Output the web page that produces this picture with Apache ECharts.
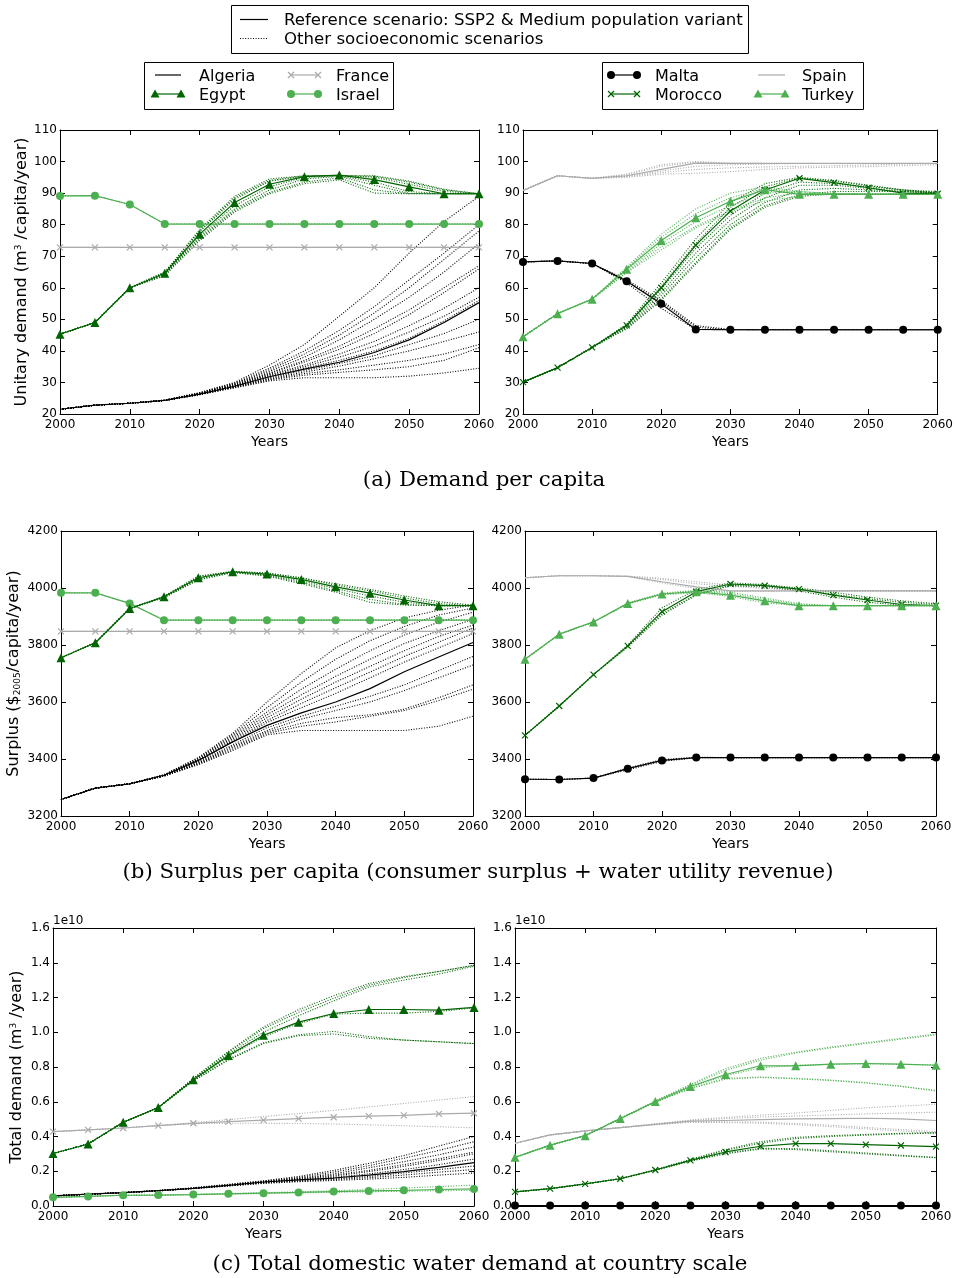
<!DOCTYPE html>
<html><head><meta charset="utf-8">
<script src="https://cdn.jsdelivr.net/npm/echarts@6/dist/echarts.min.js"></script>
<style>html,body{margin:0;padding:0;background:#fff}#chart{width:956px;height:1278px}</style>
</head><body><div id="chart"></div>
<script>
// ---------- DATA ----------
const years = [2000, 2005, 2010, 2015, 2020, 2025, 2030, 2035, 2040, 2045, 2050, 2055, 2060];

// (a) Demand per capita (m3/capita/year)
const demAlgeriaRef = [21.5, 22.8, 23.4, 24.3, 26.3, 28.8, 31.8, 34.2, 36.4, 39.5, 43.5, 49.0, 55.3];
const demAlgeriaAlt = [
  [21.5, 22.8, 23.4, 24.4, 26.8, 30.0, 35.5, 42.0, 51.0, 60.0, 71.0, 81.0, 89.0],
  [21.5, 22.8, 23.4, 24.4, 26.7, 29.8, 34.5, 40.0, 46.5, 54.0, 62.5, 71.0, 80.0],
  [21.5, 22.8, 23.4, 24.4, 26.6, 29.6, 34.0, 39.0, 45.0, 52.0, 60.0, 69.0, 78.0],
  [21.5, 22.8, 23.4, 24.4, 26.6, 29.5, 33.5, 38.0, 43.5, 50.0, 57.0, 65.0, 74.0],
  [21.5, 22.8, 23.4, 24.3, 26.5, 29.3, 33.0, 37.0, 41.5, 47.0, 53.0, 60.0, 67.0],
  [21.5, 22.8, 23.4, 24.3, 26.5, 29.2, 32.8, 36.5, 40.5, 45.5, 51.5, 58.5, 66.0],
  [21.5, 22.8, 23.4, 24.3, 26.4, 29.0, 32.5, 35.5, 39.0, 43.0, 48.0, 53.5, 60.0],
  [21.5, 22.8, 23.4, 24.3, 26.4, 29.0, 32.3, 35.0, 38.0, 41.5, 46.0, 51.0, 57.0],
  [21.5, 22.8, 23.4, 24.3, 26.3, 28.8, 32.0, 34.5, 37.0, 40.0, 44.0, 49.5, 56.0],
  [21.5, 22.8, 23.4, 24.3, 26.3, 28.7, 31.5, 33.8, 36.0, 38.5, 42.0, 45.5, 50.0],
  [21.5, 22.8, 23.4, 24.3, 26.2, 28.6, 31.2, 33.3, 35.2, 37.5, 40.0, 43.0, 46.0],
  [21.5, 22.8, 23.4, 24.3, 26.2, 28.5, 31.0, 32.8, 34.0, 35.5, 37.0, 39.0, 42.0],
  [21.5, 22.8, 23.4, 24.3, 26.1, 28.4, 30.8, 32.3, 33.2, 34.0, 35.0, 37.0, 41.0],
  [21.5, 22.8, 23.4, 24.3, 26.1, 28.3, 30.5, 31.5, 31.5, 31.5, 32.0, 33.0, 34.5]
];
const demEgyptRef = [45.3, 49.0, 60.0, 64.6, 77.0, 87.0, 92.8, 95.2, 95.7, 94.3, 92.0, 89.8, 89.8];
const demEgyptAlt = [
  [45.3, 49.0, 60.0, 64.9, 78.5, 89.0, 94.5, 95.5, 95.5, 95.5, 93.8, 91.2, 89.8],
  [45.3, 49.0, 60.0, 64.8, 77.8, 88.0, 93.8, 95.3, 95.6, 95.0, 92.8, 90.5, 89.8],
  [45.3, 49.0, 60.0, 64.4, 76.5, 86.0, 92.0, 95.0, 95.5, 93.5, 90.5, 89.8, 89.8],
  [45.3, 49.0, 60.0, 64.2, 76.0, 85.0, 91.0, 94.5, 95.3, 92.5, 89.9, 89.8, 89.8],
  [45.3, 49.0, 60.0, 64.0, 75.5, 84.5, 90.2, 93.5, 94.8, 91.0, 89.8, 89.8, 89.8],
  [45.3, 49.0, 60.0, 63.8, 75.0, 84.0, 89.8, 93.0, 94.2, 90.0, 89.8, 89.8, 89.8],
  [45.3, 49.0, 60.0, 65.0, 78.0, 88.5, 94.0, 95.5, 95.6, 95.3, 93.5, 91.0, 89.8]
];
const demFranceRef = [72.8, 72.8, 72.8, 72.8, 72.8, 72.8, 72.8, 72.8, 72.8, 72.8, 72.8, 72.8, 72.8];
const demFranceAlt = [
  [72.8, 72.8, 72.8, 72.8, 72.8, 72.8, 72.8, 72.8, 72.8, 72.8, 72.8, 72.8, 72.8]
];
const demIsraelRef = [89.1, 89.2, 86.4, 80.2, 80.2, 80.2, 80.2, 80.2, 80.2, 80.2, 80.2, 80.2, 80.2];
const demIsraelAlt = [
  [89.1, 89.2, 86.4, 80.3, 80.3, 80.3, 80.3, 80.3, 80.3, 80.3, 80.3, 80.3, 80.3]
];
const demSpainRef = [90.8, 95.5, 94.7, 95.5, 97.5, 99.5, 99.4, 99.4, 99.4, 99.4, 99.4, 99.4, 99.4];
const demSpainAlt = [
  [90.8, 95.5, 94.7, 96.0, 99.0, 100.0, 99.5, 99.4, 99.4, 99.4, 99.4, 99.4, 99.4],
  [90.8, 95.5, 94.7, 95.8, 98.5, 99.8, 99.4, 99.4, 99.4, 99.4, 99.4, 99.4, 99.4],
  [90.8, 95.5, 94.7, 95.3, 97.0, 98.5, 99.0, 99.2, 99.4, 99.4, 99.4, 99.4, 99.4],
  [90.8, 95.5, 94.7, 95.2, 96.5, 97.5, 98.0, 98.3, 98.5, 98.7, 98.9, 99.2, 99.4],
  [90.8, 95.5, 94.7, 95.0, 96.0, 96.3, 96.8, 97.5, 98.0, 98.2, 98.4, 98.7, 99.0]
];
const demMaltaRef = [68.2, 68.5, 67.7, 62.1, 54.9, 46.8, 46.7, 46.7, 46.7, 46.7, 46.7, 46.7, 46.7];
const demMaltaAlt = [
  [68.2, 68.5, 67.7, 62.5, 56.0, 48.0, 46.8, 46.7, 46.7, 46.7, 46.7, 46.7, 46.7],
  [68.2, 68.5, 67.7, 61.5, 53.5, 46.8, 46.7, 46.7, 46.7, 46.7, 46.7, 46.7, 46.7],
  [68.2, 68.5, 67.7, 62.0, 55.5, 47.5, 46.7, 46.7, 46.7, 46.7, 46.7, 46.7, 46.7]
];
const demMoroccoRef = [30.1, 34.7, 41.1, 48.1, 60.0, 73.5, 84.3, 91.0, 94.7, 93.3, 91.7, 90.0, 89.8];
const demMoroccoAlt = [
  [30.1, 34.7, 41.1, 48.5, 61.5, 75.5, 87.0, 93.0, 95.0, 94.0, 92.5, 91.0, 90.2],
  [30.1, 34.7, 41.1, 48.3, 60.5, 74.0, 85.5, 92.0, 94.8, 93.8, 92.3, 91.0, 90.5],
  [30.1, 34.7, 41.1, 48.0, 59.5, 72.5, 83.0, 90.0, 93.5, 93.0, 92.0, 91.0, 90.0],
  [30.1, 34.7, 41.1, 47.8, 58.5, 71.0, 81.5, 88.5, 92.5, 92.5, 91.5, 90.5, 90.0],
  [30.1, 34.7, 41.1, 47.5, 57.5, 69.5, 80.0, 87.0, 91.0, 91.5, 91.0, 90.5, 90.0],
  [30.1, 34.7, 41.1, 47.2, 56.5, 68.0, 79.0, 86.0, 89.5, 90.5, 90.5, 90.5, 90.2],
  [30.1, 34.7, 41.1, 47.0, 56.0, 67.5, 78.5, 85.5, 89.0, 89.8, 89.8, 89.8, 89.8]
];
const demTurkeyRef = [44.5, 51.8, 56.4, 65.9, 75.0, 82.2, 87.4, 91.1, 89.6, 89.6, 89.6, 89.6, 89.6];
const demTurkeyAlt = [
  [44.5, 51.8, 56.4, 66.5, 77.0, 85.0, 90.0, 92.0, 90.5, 89.8, 89.6, 89.6, 89.6],
  [44.5, 51.8, 56.4, 66.2, 76.0, 83.5, 88.5, 91.5, 90.0, 89.6, 89.6, 89.6, 89.6],
  [44.5, 51.8, 56.4, 65.5, 74.0, 81.0, 86.0, 90.0, 90.5, 89.8, 89.6, 89.6, 89.6],
  [44.5, 51.8, 56.4, 65.0, 73.0, 79.5, 84.5, 88.5, 90.0, 89.8, 89.6, 89.6, 89.6],
  [44.5, 51.8, 56.4, 64.8, 72.0, 79.0, 84.0, 87.5, 89.0, 89.6, 89.6, 89.6, 89.6]
];

// (b) Surplus per capita ($2005/capita/year)
const surAlgeriaRef = [3258, 3298, 3313, 3343, 3395, 3460, 3518, 3562, 3600, 3647, 3706, 3758, 3809];
const surAlgeriaAlt = [
  [3258, 3298, 3313, 3345, 3405, 3490, 3600, 3700, 3790, 3850, 3895, 3922, 3940],
  [3258, 3298, 3313, 3344, 3403, 3485, 3580, 3670, 3750, 3815, 3865, 3905, 3930],
  [3258, 3298, 3313, 3344, 3400, 3480, 3565, 3645, 3715, 3780, 3835, 3880, 3915],
  [3258, 3298, 3313, 3343, 3398, 3475, 3555, 3625, 3690, 3750, 3805, 3850, 3890],
  [3258, 3298, 3313, 3343, 3396, 3470, 3545, 3610, 3670, 3725, 3780, 3830, 3870],
  [3258, 3298, 3313, 3342, 3393, 3465, 3535, 3595, 3650, 3705, 3760, 3810, 3860],
  [3258, 3298, 3313, 3342, 3391, 3460, 3528, 3580, 3630, 3685, 3740, 3790, 3840],
  [3258, 3298, 3313, 3341, 3388, 3450, 3510, 3550, 3585, 3620, 3660, 3710, 3760],
  [3258, 3298, 3313, 3341, 3386, 3445, 3500, 3540, 3570, 3600, 3640, 3685, 3730],
  [3258, 3298, 3313, 3340, 3384, 3440, 3495, 3525, 3545, 3555, 3575, 3615, 3660],
  [3258, 3298, 3313, 3340, 3382, 3435, 3490, 3515, 3530, 3550, 3570, 3605, 3645],
  [3258, 3298, 3313, 3340, 3380, 3430, 3485, 3500, 3500, 3500, 3500, 3515, 3550]
];
const surEgyptRef = [3755, 3808, 3928, 3969, 4036, 4057, 4049, 4030, 4004, 3982, 3958, 3938, 3938];
const surEgyptAlt = [
  [3755, 3808, 3928, 3970, 4040, 4058, 4052, 4035, 4015, 3995, 3972, 3952, 3940],
  [3755, 3808, 3928, 3968, 4033, 4056, 4046, 4025, 3998, 3972, 3950, 3940, 3938],
  [3755, 3808, 3928, 3967, 4030, 4055, 4044, 4020, 3990, 3960, 3942, 3938, 3938],
  [3755, 3808, 3928, 3966, 4028, 4054, 4042, 4015, 3985, 3950, 3940, 3938, 3938],
  [3755, 3808, 3928, 3971, 4042, 4058, 4053, 4036, 4010, 3990, 3965, 3945, 3938]
];
const surFranceRef = [3848, 3848, 3848, 3848, 3848, 3848, 3848, 3848, 3848, 3848, 3848, 3848, 3848];
const surFranceAlt = [
  [3848, 3848, 3848, 3848, 3848, 3848, 3848, 3848, 3848, 3848, 3848, 3848, 3848]
];
const surIsraelRef = [3983, 3983, 3946, 3887, 3887, 3887, 3887, 3887, 3887, 3887, 3887, 3887, 3887];
const surIsraelAlt = [
  [3983, 3983, 3946, 3888, 3888, 3888, 3888, 3888, 3888, 3888, 3888, 3888, 3888]
];
const surSpainRef = [4036, 4043, 4043, 4041, 4022, 4004, 3990, 3990, 3990, 3990, 3990, 3990, 3990];
const surSpainAlt = [
  [4036, 4043, 4043, 4041, 4030, 4015, 4005, 4000, 3995, 3990, 3990, 3990, 3990],
  [4036, 4043, 4043, 4040, 4018, 3998, 3988, 3988, 3989, 3990, 3990, 3990, 3990],
  [4036, 4043, 4043, 4042, 4034, 4022, 4010, 3998, 3992, 3990, 3990, 3990, 3990]
];
const surMaltaRef = [3329, 3328, 3333, 3366, 3395, 3405, 3405, 3405, 3405, 3405, 3405, 3405, 3405];
const surMaltaAlt = [
  [3329, 3328, 3333, 3368, 3398, 3406, 3405, 3405, 3405, 3405, 3405, 3405, 3405],
  [3329, 3328, 3333, 3362, 3392, 3404, 3405, 3405, 3405, 3405, 3405, 3405, 3405]
];
const surMoroccoRef = [3483, 3586, 3696, 3797, 3917, 3987, 4014, 4008, 3996, 3975, 3958, 3942, 3938];
const surMoroccoAlt = [
  [3483, 3586, 3696, 3800, 3930, 3995, 4018, 4012, 4000, 3985, 3968, 3955, 3945],
  [3483, 3586, 3696, 3795, 3910, 3978, 4010, 4010, 3995, 3978, 3962, 3950, 3942],
  [3483, 3586, 3696, 3792, 3905, 3975, 4008, 4005, 3990, 3968, 3950, 3940, 3938]
];
const surTurkeyRef = [3750, 3838, 3881, 3946, 3979, 3987, 3975, 3955, 3938, 3938, 3938, 3938, 3938];
const surTurkeyAlt = [
  [3750, 3838, 3881, 3948, 3982, 3992, 3985, 3965, 3945, 3938, 3938, 3938, 3938],
  [3750, 3838, 3881, 3944, 3976, 3984, 3970, 3948, 3938, 3938, 3938, 3938, 3938],
  [3750, 3838, 3881, 3945, 3978, 3990, 3980, 3960, 3942, 3938, 3938, 3938, 3938]
];

// (c) Total demand (units of 1e10 m3/year)
const totAlgeriaRef = [0.058, 0.068, 0.077, 0.088, 0.102, 0.119, 0.138, 0.150, 0.161, 0.178, 0.198, 0.222, 0.250];
const totAlgeriaAlt = [
  [0.058, 0.068, 0.077, 0.089, 0.105, 0.125, 0.145, 0.170, 0.205, 0.245, 0.290, 0.345, 0.400],
  [0.058, 0.068, 0.077, 0.089, 0.104, 0.123, 0.143, 0.165, 0.195, 0.232, 0.275, 0.320, 0.370],
  [0.058, 0.068, 0.077, 0.088, 0.103, 0.121, 0.141, 0.160, 0.185, 0.220, 0.255, 0.295, 0.340],
  [0.058, 0.068, 0.077, 0.088, 0.103, 0.120, 0.140, 0.157, 0.178, 0.205, 0.238, 0.272, 0.310],
  [0.058, 0.068, 0.077, 0.088, 0.102, 0.119, 0.138, 0.155, 0.172, 0.198, 0.228, 0.262, 0.300],
  [0.058, 0.068, 0.077, 0.088, 0.102, 0.118, 0.136, 0.151, 0.165, 0.185, 0.210, 0.238, 0.270],
  [0.058, 0.068, 0.077, 0.087, 0.101, 0.117, 0.134, 0.146, 0.156, 0.170, 0.190, 0.210, 0.230],
  [0.058, 0.068, 0.077, 0.087, 0.101, 0.116, 0.132, 0.143, 0.152, 0.163, 0.178, 0.195, 0.210],
  [0.058, 0.068, 0.077, 0.087, 0.100, 0.115, 0.130, 0.140, 0.147, 0.155, 0.165, 0.178, 0.190]
];
const totEgyptRef = [0.302, 0.357, 0.482, 0.567, 0.726, 0.866, 0.983, 1.058, 1.108, 1.131, 1.131, 1.127, 1.143];
const totEgyptAlt = [
  [0.302, 0.357, 0.482, 0.567, 0.735, 0.890, 1.030, 1.130, 1.210, 1.280, 1.320, 1.350, 1.385],
  [0.302, 0.357, 0.482, 0.567, 0.733, 0.885, 1.020, 1.115, 1.195, 1.270, 1.315, 1.350, 1.385],
  [0.302, 0.357, 0.482, 0.567, 0.730, 0.875, 1.000, 1.095, 1.180, 1.260, 1.300, 1.335, 1.380],
  [0.302, 0.357, 0.482, 0.567, 0.725, 0.860, 0.975, 1.050, 1.105, 1.110, 1.110, 1.120, 1.140],
  [0.302, 0.357, 0.482, 0.567, 0.720, 0.845, 0.940, 0.985, 1.005, 0.975, 0.955, 0.945, 0.935],
  [0.302, 0.357, 0.482, 0.567, 0.720, 0.840, 0.935, 0.980, 0.990, 0.965, 0.955, 0.945, 0.935]
];
const totFranceRef = [0.428, 0.438, 0.449, 0.463, 0.476, 0.486, 0.494, 0.503, 0.511, 0.517, 0.522, 0.530, 0.534];
const totFranceAlt = [
  [0.428, 0.438, 0.449, 0.463, 0.480, 0.497, 0.515, 0.532, 0.550, 0.570, 0.590, 0.610, 0.630],
  [0.428, 0.438, 0.449, 0.463, 0.474, 0.476, 0.476, 0.475, 0.472, 0.467, 0.462, 0.456, 0.450]
];
const totIsraelRef = [0.050, 0.055, 0.062, 0.063, 0.066, 0.070, 0.074, 0.078, 0.083, 0.087, 0.090, 0.095, 0.098];
const totIsraelAlt = [
  [0.050, 0.055, 0.062, 0.063, 0.067, 0.072, 0.077, 0.082, 0.088, 0.095, 0.103, 0.112, 0.120],
  [0.050, 0.055, 0.062, 0.063, 0.066, 0.069, 0.072, 0.075, 0.079, 0.082, 0.085, 0.088, 0.090]
];
const totSpainRef = [0.361, 0.409, 0.432, 0.451, 0.470, 0.488, 0.492, 0.497, 0.501, 0.503, 0.505, 0.501, 0.492];
const totSpainAlt = [
  [0.361, 0.409, 0.432, 0.451, 0.473, 0.495, 0.510, 0.523, 0.535, 0.550, 0.565, 0.575, 0.585],
  [0.361, 0.409, 0.432, 0.451, 0.472, 0.492, 0.503, 0.512, 0.518, 0.524, 0.530, 0.535, 0.540],
  [0.361, 0.409, 0.432, 0.451, 0.469, 0.484, 0.484, 0.482, 0.475, 0.465, 0.452, 0.440, 0.428],
  [0.361, 0.409, 0.432, 0.451, 0.468, 0.482, 0.480, 0.477, 0.468, 0.457, 0.444, 0.432, 0.420]
];
const totMaltaRef = [0.003, 0.003, 0.003, 0.003, 0.003, 0.003, 0.003, 0.003, 0.003, 0.003, 0.003, 0.003, 0.003];
const totMaltaAlt = [
  [0.003, 0.003, 0.003, 0.003, 0.003, 0.003, 0.003, 0.003, 0.003, 0.003, 0.003, 0.003, 0.003]
];
const totMoroccoRef = [0.081, 0.100, 0.127, 0.157, 0.207, 0.263, 0.311, 0.344, 0.359, 0.359, 0.353, 0.348, 0.342];
const totMoroccoAlt = [
  [0.081, 0.100, 0.127, 0.157, 0.209, 0.268, 0.325, 0.370, 0.395, 0.405, 0.412, 0.418, 0.422],
  [0.081, 0.100, 0.127, 0.157, 0.208, 0.266, 0.320, 0.362, 0.388, 0.400, 0.408, 0.415, 0.420],
  [0.081, 0.100, 0.127, 0.157, 0.206, 0.260, 0.305, 0.332, 0.330, 0.318, 0.305, 0.292, 0.280],
  [0.081, 0.100, 0.127, 0.157, 0.205, 0.258, 0.300, 0.328, 0.325, 0.312, 0.300, 0.288, 0.278]
];
const totTurkeyRef = [0.280, 0.350, 0.405, 0.503, 0.601, 0.688, 0.757, 0.807, 0.807, 0.816, 0.820, 0.816, 0.810];
const totTurkeyAlt = [
  [0.280, 0.350, 0.405, 0.503, 0.605, 0.700, 0.790, 0.850, 0.885, 0.915, 0.940, 0.965, 0.990],
  [0.280, 0.350, 0.405, 0.503, 0.603, 0.695, 0.780, 0.840, 0.880, 0.910, 0.935, 0.960, 0.985],
  [0.280, 0.350, 0.405, 0.503, 0.600, 0.685, 0.750, 0.795, 0.810, 0.815, 0.818, 0.815, 0.812],
  [0.280, 0.350, 0.405, 0.503, 0.598, 0.678, 0.735, 0.742, 0.735, 0.725, 0.710, 0.690, 0.665],
  [0.280, 0.350, 0.405, 0.503, 0.597, 0.675, 0.730, 0.740, 0.732, 0.722, 0.708, 0.688, 0.662]
];

const rowYTicks = [
  {min: 20, max: 110, interval: 10},
  {min: 3200, max: 4200, interval: 200},
  {min: 0, max: 1.6, interval: 0.2}
];
const captions = [
  '(a) Demand per capita',
  '(b) Surplus per capita (consumer surplus + water utility revenue)',
  '(c) Total domestic water demand at country scale'
];

// ---------- STYLE ----------
const FONT = 'DejaVu Sans';
const X_PATH = 'path://M0,0L10,10M10,0L0,10';
const COLORS = {Algeria:'#000000', Egypt:'#006400', France:'#aaaaaa', Israel:'#4caf50',
                Malta:'#000000', Morocco:'#006400', Spain:'#aaaaaa', Turkey:'#4caf50'};
const SYMBOLS = {Algeria:'none', Egypt:'triangle', France:'x', Israel:'circle',
                 Malta:'circle', Morocco:'x', Spain:'none', Turkey:'triangle'};

const grids = [
  {left: 60, top: 130, width: 419, height: 284},
  {left: 523, top: 130, width: 418, height: 284},
  {left: 61, top: 531, width: 412, height: 285},
  {left: 525, top: 531, width: 411, height: 285},
  {left: 53, top: 928, width: 421, height: 278},
  {left: 515, top: 928, width: 421, height: 278}
];

const panels = [
  [['France', demFranceRef, demFranceAlt], ['Algeria', demAlgeriaRef, demAlgeriaAlt], ['Israel', demIsraelRef, demIsraelAlt], ['Egypt', demEgyptRef, demEgyptAlt]],
  [['Spain', demSpainRef, demSpainAlt], ['Malta', demMaltaRef, demMaltaAlt], ['Morocco', demMoroccoRef, demMoroccoAlt], ['Turkey', demTurkeyRef, demTurkeyAlt]],
  [['France', surFranceRef, surFranceAlt], ['Algeria', surAlgeriaRef, surAlgeriaAlt], ['Israel', surIsraelRef, surIsraelAlt], ['Egypt', surEgyptRef, surEgyptAlt]],
  [['Spain', surSpainRef, surSpainAlt], ['Malta', surMaltaRef, surMaltaAlt], ['Morocco', surMoroccoRef, surMoroccoAlt], ['Turkey', surTurkeyRef, surTurkeyAlt]],
  [['France', totFranceRef, totFranceAlt], ['Algeria', totAlgeriaRef, totAlgeriaAlt], ['Israel', totIsraelRef, totIsraelAlt], ['Egypt', totEgyptRef, totEgyptAlt]],
  [['Spain', totSpainRef, totSpainAlt], ['Malta', totMaltaRef, totMaltaAlt], ['Morocco', totMoroccoRef, totMoroccoAlt], ['Turkey', totTurkeyRef, totTurkeyAlt]]
];

const yNames = [
  {text: 'Unitary demand (m{sup|3} /capita/year)', gap: 30},
  null,
  {text: 'Surplus (${sub|2005}/capita/year)', gap: 39},
  null,
  {text: 'Total demand (m{sup|3} /year)', gap: 28},
  null
];

function pairs(arr) { return years.map((y, i) => [y, arr[i]]); }

const xAxes = [], yAxes = [], series = [];
grids.forEach((g, gi) => {
  const row = Math.floor(gi / 2);
  const yt = rowYTicks[row];
  const axisLine = {show: true, onZero: false, lineStyle: {color: '#000', width: 1}};
  const tick = {show: true, inside: true, length: 5, lineStyle: {color: '#000', width: 1}};
  xAxes.push({
    type: 'value', gridIndex: gi, position: 'bottom', min: 2000, max: 2060, interval: 10,
    axisLine, axisTick: tick, splitLine: {show: false},
    axisLabel: {color: '#000', fontSize: 12, fontFamily: FONT, margin: 5, formatter: v => String(v)},
    name: 'Years', nameLocation: 'middle', nameGap: 21,
    nameTextStyle: {color: '#000', fontSize: 14, fontFamily: FONT}
  });
  xAxes.push({
    type: 'value', gridIndex: gi, position: 'top', min: 2000, max: 2060, interval: 10,
    axisLine, axisTick: tick, splitLine: {show: false}, axisLabel: {show: false}
  });
  const yn = yNames[gi];
  const yl = {
    type: 'value', gridIndex: gi, position: 'left', min: yt.min, max: yt.max, interval: yt.interval,
    axisLine, axisTick: tick, splitLine: {show: false},
    axisLabel: {color: '#000', fontSize: 12, fontFamily: FONT, margin: 3,
      formatter: row === 2 ? (v => v.toFixed(1)) : (v => String(v))}
  };
  if (yn) {
    yl.name = yn.text; yl.nameLocation = 'middle'; yl.nameGap = yn.gap;
    yl.nameTextStyle = {color: '#000', fontSize: 16, fontFamily: FONT,
      rich: {sup: {fontSize: 9, fontFamily: FONT, color: '#000', verticalAlign: 'top'},
             sub: {fontSize: 9, fontFamily: FONT, color: '#000', verticalAlign: 'bottom'}}};
  }
  yAxes.push(yl);
  yAxes.push({
    type: 'value', gridIndex: gi, position: 'right', min: yt.min, max: yt.max, interval: yt.interval,
    axisLine, axisTick: tick, splitLine: {show: false}, axisLabel: {show: false}
  });

  panels[gi].forEach(([name, ref, alts]) => {
    const c = COLORS[name];
    alts.forEach(a => series.push({
      type: 'line', name: name + ' (other scenarios)', xAxisIndex: gi * 2, yAxisIndex: gi * 2,
      data: pairs(a), symbol: 'none', silent: true, z: 2,
      lineStyle: {color: c, width: 1.1, type: [1, 1.6]}, itemStyle: {color: c}
    }));
    const s = SYMBOLS[name];
    series.push({
      type: 'line', name, xAxisIndex: gi * 2, yAxisIndex: gi * 2, data: pairs(ref), z: 3,
      symbol: s === 'x' ? X_PATH : s,
      symbolSize: s === 'x' ? 6 : (s === 'triangle' ? 9 : 8),
      lineStyle: {color: c, width: 1.2},
      itemStyle: {color: c, borderColor: c, borderWidth: s === 'x' ? 1.2 : 0}
    });
  });
});

// ---------- LEGENDS / CAPTIONS (graphic) ----------
function markerEls(s, x, y, c) {
  if (s === 'circle') return [{type: 'circle', shape: {cx: x, cy: y, r: 4}, style: {fill: c}}];
  if (s === 'triangle') return [{type: 'polygon', shape: {points: [[x, y - 4.5], [x + 4.5, y + 3.5], [x - 4.5, y + 3.5]]}, style: {fill: c}}];
  if (s === 'x') return [
    {type: 'line', shape: {x1: x - 3, y1: y - 3, x2: x + 3, y2: y + 3}, style: {stroke: c, lineWidth: 1.2}},
    {type: 'line', shape: {x1: x - 3, y1: y + 3, x2: x + 3, y2: y - 3}, style: {stroke: c, lineWidth: 1.2}}
  ];
  return [];
}
function txt(text, x, y, font) {
  return {type: 'text', style: {text, x, y, font, fill: '#000', textVerticalAlign: 'middle', verticalAlign: 'middle'}};
}
function legendItem(name, x1, x2, tx, y) {
  const c = COLORS[name];
  return [
    {type: 'line', shape: {x1, y1: y, x2, y2: y}, style: {stroke: c, lineWidth: 1.2}},
    ...markerEls(SYMBOLS[name], x1, y, c), ...markerEls(SYMBOLS[name], x2, y, c),
    txt(name, tx, y + 1.5, '16px "DejaVu Sans"')
  ];
}
const graphics = [];
// scenario legend
graphics.push({type: 'rect', shape: {x: 231.5, y: 5.5, width: 517, height: 48}, style: {fill: '#fff', stroke: '#000', lineWidth: 1}});
graphics.push({type: 'line', shape: {x1: 240, y1: 19.5, x2: 268, y2: 19.5}, style: {stroke: '#000', lineWidth: 1.2}});
graphics.push(txt('Reference scenario: SSP2 & Medium population variant', 284, 20.5, '16.6px "DejaVu Sans"'));
graphics.push({type: 'line', shape: {x1: 240, y1: 38.5, x2: 268, y2: 38.5}, style: {stroke: '#000', lineWidth: 1, lineDash: [1, 1.6]}});
graphics.push(txt('Other socioeconomic scenarios', 284, 39.5, '16.6px "DejaVu Sans"'));
// country legend left
graphics.push({type: 'rect', shape: {x: 144.5, y: 62.5, width: 249, height: 47}, style: {fill: '#fff', stroke: '#000', lineWidth: 1}});
graphics.push(...legendItem('Algeria', 155, 181, 199, 75));
graphics.push(...legendItem('Egypt', 155, 181, 199, 94));
graphics.push(...legendItem('France', 291, 318, 336, 75));
graphics.push(...legendItem('Israel', 291, 318, 336, 94));
// country legend right
graphics.push({type: 'rect', shape: {x: 602.5, y: 62.5, width: 261, height: 47}, style: {fill: '#fff', stroke: '#000', lineWidth: 1}});
graphics.push(...legendItem('Malta', 611, 637, 655, 75));
graphics.push(...legendItem('Morocco', 611, 637, 655, 94));
graphics.push(...legendItem('Spain', 758, 785, 802, 75));
graphics.push(...legendItem('Turkey', 758, 785, 802, 94));
// captions
[[484, 480], [478, 872], [480, 1264]].forEach(([x, y], i) => graphics.push({
  type: 'text', style: {text: captions[i], x, y, font: '21.3px "DejaVu Serif"', fill: '#000',
    textAlign: 'center', align: 'center', textVerticalAlign: 'middle', verticalAlign: 'middle'}
}));
// offset text 1e10
[53, 515].forEach(x => graphics.push(txt('1e10', x, 921, '12px "DejaVu Sans"')));

const chart = echarts.init(document.getElementById('chart'), null, {renderer: 'canvas'});
chart.setOption({
  animation: false,
  backgroundColor: '#fff',
  grid: grids.map(g => Object.assign({containLabel: false}, g)),
  xAxis: xAxes,
  yAxis: yAxes,
  series,
  graphic: {elements: graphics}
});
</script></body></html>
